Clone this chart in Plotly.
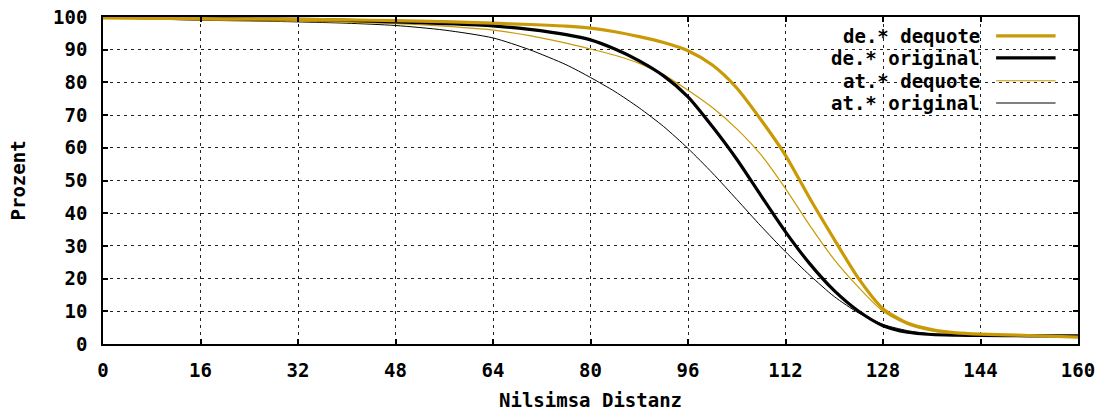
import plotly.graph_objects as go

# ---------------- data ----------------
distanz = [0, 8, 16, 24, 32, 40, 48, 56, 64, 70, 76, 80, 84, 88, 92, 96, 100, 104, 108, 112, 116, 120, 124, 128, 132, 136, 140, 144, 152, 160]

de_dequote = [99.7, 99.6, 99.5, 99.4, 99.3, 99.1, 98.9, 98.6, 98.1, 97.7, 97.2, 96.6, 95.5, 94.0, 92.2, 89.7, 85.3, 78.3, 68.5, 57.7, 44.5, 32.0, 20.0, 10.8, 6.4, 4.4, 3.4, 3.0, 2.6, 2.1]
de_original = [100.0, 99.8, 99.6, 99.4, 99.3, 99.0, 98.5, 98.0, 97.3, 96.2, 94.6, 93.0, 90.2, 86.6, 82.0, 75.6, 66.5, 56.5, 45.3, 34.3, 24.5, 16.3, 10.0, 5.6, 3.6, 2.9, 2.7, 2.6, 2.5, 2.5]
at_dequote = [99.8, 99.4, 99.1, 98.9, 98.7, 98.4, 98.0, 97.2, 96.0, 94.3, 92.0, 90.2, 88.3, 85.8, 82.3, 77.6, 72.3, 65.8, 57.8, 47.5, 36.2, 25.8, 17.3, 10.0, 6.0, 4.0, 3.1, 2.7, 2.6, 2.5]
at_original = [100.0, 99.4, 99.0, 98.8, 98.5, 98.1, 97.4, 96.0, 93.6, 90.0, 85.4, 81.5, 77.2, 72.2, 66.5, 59.8, 52.3, 44.2, 36.0, 28.2, 21.0, 14.5, 9.5, 6.0, 4.1, 3.1, 2.7, 2.6, 2.6, 2.6]

x_ticks = [0, 16, 32, 48, 64, 80, 96, 112, 128, 144, 160]
y_ticks = [0, 10, 20, 30, 40, 50, 60, 70, 80, 90, 100]

series_names = ["de.* dequote", "de.* original", "at.* dequote", "at.* original"]

GOLD = "#c99a06"
FONT = "DejaVu Sans Mono"
FS = 19

fig = go.Figure()
series = [
    (de_dequote, GOLD, 3.2),
    (de_original, "black", 3.2),
    (at_dequote, GOLD, 1.2),
    (at_original, "black", 1.0),
]
order = [3, 2, 1, 0]
for i in order:
    ys, col, w = series[i]
    fig.add_trace(go.Scatter(x=distanz, y=ys, mode="lines", name=series_names[i],
                             line=dict(color=col, width=w, shape="spline", smoothing=0.7),
                             showlegend=False))

axis_common = dict(
    showline=True, linecolor="black", linewidth=1.5, mirror="allticks",
    ticks="inside", ticklen=5, tickwidth=1.5, tickcolor="black",
    showgrid=True, gridcolor="#222", gridwidth=1, griddash="3px,4px",
    zeroline=False, automargin=False,
    tickfont=dict(family=FONT, size=FS, color="black", weight="bold"),
)
fig.update_xaxes(range=[0, 160], tickvals=x_ticks, ticklabelstandoff=8, **axis_common)
fig.update_yaxes(range=[0, 100], tickvals=y_ticks, ticklabelstandoff=10, **axis_common)

# legend (gnuplot style: text then sample line)
rows_y = [0.942, 0.875, 0.805, 0.737]
shapes = [dict(type="rect", xref="paper", yref="paper", x0=0.737, x1=0.983, y0=0.7, y1=0.98,
               fillcolor="white", line=dict(width=0), layer="between")]
annotations = []
for i, name in enumerate(series_names):
    _, col, w = series[i]
    annotations.append(dict(xref="paper", yref="paper", x=0.902, y=rows_y[i], text=name,
                            showarrow=False, xanchor="right", yanchor="middle",
                            font=dict(family=FONT, size=FS, color="black", weight="bold")))
    shapes.append(dict(type="line", xref="paper", yref="paper", x0=0.916, x1=0.977,
                       y0=rows_y[i], y1=rows_y[i], line=dict(color=col, width=w)))

annotations.append(dict(xref="paper", yref="paper", x=0.5, y=-0.171, text="Nilsimsa Distanz",
                        showarrow=False, xanchor="center", yanchor="middle",
                        font=dict(family=FONT, size=FS, color="black", weight="bold")))
annotations.append(dict(xref="paper", yref="paper", x=-0.0872, y=0.5, text="Prozent",
                        showarrow=False, xanchor="center", yanchor="middle", textangle=-90,
                        font=dict(family=FONT, size=FS, color="black", weight="bold")))

fig.update_layout(
    width=1106, height=412,
    margin=dict(l=103, r=28, t=17, b=68),
    paper_bgcolor="white", plot_bgcolor="white",
    shapes=shapes, annotations=annotations,
    showlegend=False,
)
fig.write_html("out.html")
